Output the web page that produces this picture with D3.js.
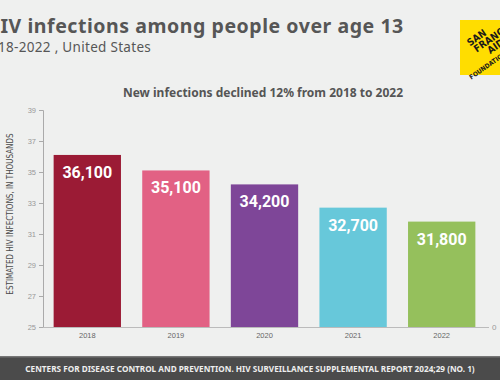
<!DOCTYPE html>
<html>
<head>
<meta charset="utf-8">
<script src="https://cdn.jsdelivr.net/npm/d3@7"></script>
<style>
  html, body { margin: 0; padding: 0; background: #eff0ef; }
  svg { display: block; }
</style>
</head>
<body>
<div id="chart"></div>
<script>
/*
** Data
*/
var years = ["2018", "2019", "2020", "2021", "2022"]
  , infections = [36.1, 35.1, 34.2, 32.7, 31.8]   // thousands
  , valueLabels = ["36,100", "35,100", "34,200", "32,700", "31,800"]
  , barColors = ["#9b1b35", "#e26184", "#7e4698", "#67c8da", "#95c05c"]
  , yTicks = [25, 27, 29, 31, 33, 35, 37, 39]
  , rightTicks = [0]
;

var width = 500
  , height = 380
  , svg = d3.select("#chart").append("svg")
      .attr("width", width)
      .attr("height", height)
  , x = d3.scaleBand()
      .domain(years)
      .range([43, 486])
      .paddingInner(0.24)
      .paddingOuter(0.12)
  , y = d3.scaleLinear()
      .domain([25, 39])
      .range([327, 110])
;

svg.append("rect")
    .attr("width", width)
    .attr("height", height)
    .attr("fill", "#eff0ef")
;

// title block (cropped on the left like the source image)
svg.append("text")
    .attr("x", -15)
    .attr("y", 33)
    .attr("font-family", "Noto Sans, sans-serif")
    .attr("font-weight", 700)
    .attr("font-size", 19.5)
    .attr("letter-spacing", 0.55)
    .attr("fill", "#565656")
    .text("HIV infections among people over age 13")
;
svg.append("text")
    .attr("x", -18)
    .attr("y", 52)
    .attr("font-family", "Noto Sans, sans-serif")
    .attr("font-size", 13.5)
    .attr("letter-spacing", 0.3)
    .attr("fill", "#565656")
    .text("2018-2022 , United States")
;

// logo
var logo = svg.append("g").attr("transform", "translate(460,20)");
logo.append("rect")
    .attr("width", 60)
    .attr("height", 55)
    .attr("fill", "#ffdd00")
;
logo.append("g")
    .attr("transform", "translate(22,40) rotate(-35)")
    .selectAll("text")
    .data(["SAN", "FRANCISCO", "AIDS", "FOUNDATION"])
    .join("text")
      .attr("x", function(d, i) { return [-2, 0, 10, -20][i]; })
      .attr("y", function(d, i) { return [-18, -9, 0, 10][i]; })
      .attr("font-family", "DejaVu Sans Condensed, sans-serif")
      .attr("font-weight", 700)
      .attr("font-size", function(d, i) { return i === 3 ? 6.5 : 10; })
      .attr("fill", "#1a1a1a")
      .text(function(d) { return d; })
;

// chart heading
svg.append("text")
    .attr("x", 263)
    .attr("y", 97)
    .attr("text-anchor", "middle")
    .attr("font-family", "Noto Sans, sans-serif")
    .attr("font-weight", 700)
    .attr("font-size", 12)
    .attr("fill", "#555")
    .text("New infections declined 12% from 2018 to 2022")
;

// bars
svg.append("g")
    .selectAll("rect")
    .data(years)
    .join("rect")
      .attr("x", function(d) { return x(d); })
      .attr("y", function(d, i) { return y(infections[i]); })
      .attr("width", x.bandwidth())
      .attr("height", function(d, i) { return y(25) - y(infections[i]); })
      .attr("fill", function(d, i) { return barColors[i]; })
;

svg.append("g")
    .selectAll("text")
    .data(years)
    .join("text")
      .attr("x", function(d) { return x(d) + x.bandwidth() / 2; })
      .attr("y", function(d, i) { return y(infections[i]) + 23; })
      .attr("text-anchor", "middle")
      .attr("font-family", "Roboto, sans-serif")
      .attr("font-weight", 700)
      .attr("font-size", 16)
      .attr("fill", "#fff")
      .text(function(d, i) { return valueLabels[i]; })
;

// y axis
var yAxis = svg.append("g")
    .attr("transform", "translate(43,0)")
    .call(d3.axisLeft(y).tickValues(yTicks).tickSize(4).tickPadding(3))
;
yAxis.select(".domain").attr("stroke", "#aaa");
yAxis.selectAll(".tick line").attr("stroke", "#aaa");
yAxis.selectAll(".tick text")
    .attr("font-family", "Liberation Sans, sans-serif")
    .attr("font-size", 7.5)
    .attr("fill", "#999")
;

// x axis
var xAxis = svg.append("g")
    .attr("transform", "translate(0,327)")
    .call(d3.axisBottom(x).tickSize(0).tickPadding(6))
;
xAxis.select(".domain")
    .attr("d", "M43,0.5H489")
    .attr("stroke", "#bbb")
;
xAxis.selectAll(".tick text")
    .attr("font-family", "Liberation Sans, sans-serif")
    .attr("font-size", 7.5)
    .attr("fill", "#666")
;

// right axis (only its zero shows)
var r = d3.scaleLinear().domain([0, 1]).range([327, 110]);
var rAxis = svg.append("g")
    .attr("transform", "translate(489,0)")
    .call(d3.axisRight(r).tickValues(rightTicks).tickFormat(d3.format("d")).tickSize(0).tickPadding(3))
;
rAxis.select(".domain").remove();
rAxis.selectAll(".tick text")
    .attr("font-family", "Liberation Sans, sans-serif")
    .attr("font-size", 8)
    .attr("fill", "#999")
;

// y axis title
svg.append("text")
    .attr("transform", "translate(13,214) rotate(-90)")
    .attr("text-anchor", "middle")
    .attr("font-family", "DejaVu Sans Condensed, sans-serif")
    .attr("font-size", 8)
    .attr("fill", "#4a4a4a")
    .text("ESTIMATED HIV INFECTIONS, IN THOUSANDS")
;

// footer band
svg.append("rect")
    .attr("y", 357)
    .attr("width", width)
    .attr("height", 23)
    .attr("fill", "#4b4b4b")
;
svg.append("rect")
    .attr("y", 356)
    .attr("width", width)
    .attr("height", 1.5)
    .attr("fill", "#777")
;
svg.append("text")
    .attr("x", 250)
    .attr("y", 372)
    .attr("text-anchor", "middle")
    .attr("font-family", "Noto Sans, sans-serif")
    .attr("font-weight", 700)
    .attr("font-size", 8.2)
    .attr("fill", "#eee")
    .text("CENTERS FOR DISEASE CONTROL AND PREVENTION. HIV SURVEILLANCE SUPPLEMENTAL REPORT 2024;29 (NO. 1)")
;
</script>
</body>
</html>
